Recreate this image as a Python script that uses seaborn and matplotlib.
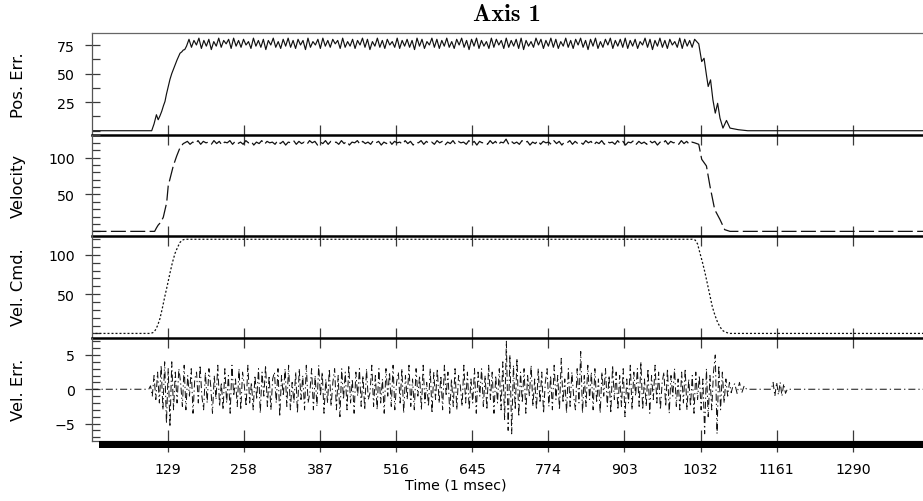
import numpy as np
import pandas as pd
import matplotlib
matplotlib.use("Agg")
import matplotlib.pyplot as plt
from matplotlib.ticker import MultipleLocator, FixedLocator
import seaborn as sns

# ---------------- data (time in ms) ----------------
time_ticks = [129, 258, 387, 516, 645, 774, 903, 1032, 1161, 1290]
time_end = 1409

# Position error
pos_rise_t = [0, 102, 106, 110, 113, 116, 119, 122, 124.5, 127, 130, 133, 136,
              139, 141.5, 145, 150, 153, 155.5, 158]
pos_rise_v = [0, 0, 6, 14, 9.6, 13, 17, 22, 25.6, 32, 38.7, 45, 50,
              54, 57.6, 62, 67.8, 69, 70.6, 71]
pos_hold_start, pos_hold_step = 161, 4.2
pos_hold_v = [
    74, 80, 73, 79, 75, 81, 72, 79, 74, 80,
    71, 78, 74, 81, 73, 79, 76, 80, 72, 81,
    74, 79, 73, 80, 75, 78, 72, 81, 74, 79,
    73, 80, 71, 79, 75, 81, 73, 78, 72, 80,
    74, 81, 73, 79, 72, 80, 75, 79, 71, 81,
    73, 78, 75, 80, 72, 81, 74, 79, 73, 80,
    76, 79, 72, 81, 73, 78, 74, 80, 72, 79,
    75, 81, 73, 80, 71, 78, 74, 81, 73, 79,
    72, 80, 75, 78, 73, 81, 72, 79, 74, 80,
    73, 79, 71, 81, 74, 80, 72, 78, 75, 81,
    73, 80, 72, 79, 74, 81, 73, 78, 72, 80,
    75, 81, 73, 79, 71, 80, 74, 81, 72, 79,
    74, 78, 72, 81, 73, 80, 75, 79, 72, 81,
    73, 79, 74, 80, 72, 81, 71, 79, 74, 78,
    73, 81, 75, 80, 72, 79, 74, 81, 73, 80,
    72, 78, 74, 81, 73, 79, 72, 80, 75, 81,
    73, 79, 71, 80, 74, 81, 72, 78, 73, 80,
    75, 81, 72, 79, 74, 80, 73, 81, 72, 79,
    74, 80, 72, 78, 75, 81, 73, 80, 71, 79,
    74, 81, 73, 79, 72, 80, 75, 78, 73, 81,
    72, 80, 74, 79, 73, 80,
]
pos_fall_t = [1029, 1034, 1038, 1042, 1045, 1049, 1053, 1057, 1061, 1065,
              1070, 1076, 1082, 1096, 1112, time_end]
pos_fall_v = [76, 60.5, 63.4, 48.8, 38.7, 44.5, 27, 15.4, 24, 11,
              2.3, 9, 2.3, 0.9, 0, 0]

# Measured velocity
vel_rise_t = [0, 107, 110, 113, 117, 121.6, 127.4, 130, 135.8, 138.6, 144.3,
              150, 155.5]
vel_rise_v = [0, 0, 4.6, 8.5, 12, 19, 39, 61.7, 79.7, 88.8, 102,
              113.5, 119]
vel_hold_start, vel_hold_step = 158, 4.5
vel_hold_v = [
    120, 122, 118, 121, 119, 123, 118, 122, 120, 121,
    118, 123, 119, 122, 117, 121, 120, 123, 118, 122,
    119, 121, 118, 123, 120, 122, 117, 121, 119, 123,
    118, 122, 120, 121, 118, 123, 119, 122, 117, 121,
    120, 123, 118, 122, 119, 121, 118, 123, 120, 122,
    117, 121, 119, 123, 118, 122, 120, 121, 118, 123,
    119, 122, 117, 121, 120, 123, 118, 122, 119, 121,
    118, 123, 120, 122, 117, 121, 119, 123, 118, 122,
    120, 121, 118, 123, 119, 122, 117, 121, 120, 123,
    118, 122, 119, 121, 118, 123, 120, 122, 117, 121,
    119, 123, 118, 122, 120, 121, 118, 123, 119, 122,
    117, 122, 120, 121, 118, 123, 119, 122, 117, 121,
    120, 125, 118, 122, 119, 121, 118, 123, 120, 122,
    117, 121, 119, 123, 118, 122, 120, 121, 118, 123,
    119, 122, 117, 121, 120, 123, 118, 122, 119, 121,
    118, 123, 120, 122, 117, 121, 119, 123, 118, 122,
    120, 121, 118, 123, 119, 122, 117, 121, 120, 123,
    118, 122, 119, 121, 118, 123, 120, 122, 117, 121,
    119, 123, 118, 122, 120, 121, 118, 123, 119, 122,
    118, 121, 120,
]
vel_fall_t = [1029, 1034, 1042, 1048, 1056, 1065, 1073, 1082, time_end]
vel_fall_v = [118, 97.7, 88.7, 61.4, 29.6, 16, 2.3, 0, 0]

# Velocity command
cmd_t = [0, 100, 104, 108, 112, 116, 120, 124.5, 129, 133, 137, 141.5, 146,
         150, 154, 158, 162, 1018, 1023, 1027, 1031, 1035.5, 1039.7, 1044,
         1048, 1052, 1056.5, 1061, 1065, 1069, 1073, 1078, 1082, time_end]
cmd_v = [0, 0, 1, 4, 10, 19, 32, 48, 63, 77, 90, 102, 110,
         116, 119, 120, 120, 120, 119, 114, 102.5, 90, 77, 62,
         48, 34, 23, 14, 8.4, 4, 2, 0.7, 0, 0]

# Velocity error
err_lead_t = [0, 97]
err_lead_v = [0, 0]
err_run_start, err_run_step = 100, 3
err_run_v = [
    0.5, -1.0, 2.0, -1.5, 2.5, -2.0, 3.5, -3.0, 4.0, -5.0,
    3.0, -5.5, 4.0, -3.0, 2.5, -2.0, 3.0, 1.0, -2.5, 3.5,
    -3.0, 2.0, -1.0, 3.0, -3.5, 1.5, 2.5, -2.0, 3.5, -1.0,
    -3.0, 2.5, -2.0, 3.0, 0.5, -3.5, 2.0, -1.5, 3.5, -2.5,
    1.0, -3.0, 3.0, -2.0, 2.0, -3.5, 3.5, -1.0, 1.5, -2.5,
    3.0, -3.0, 2.5, 0.5, -2.5, 3.5, -2.0, 1.0, -3.0, 2.0,
    -1.5, 3.0, -3.5, 2.5, -1.0, 3.5, -2.5, 2.0, -3.0, 1.5,
    2.5, -2.0, 3.0, -4.0, 2.0, -1.0, 3.0, -2.5, 3.5, -3.0,
    1.0, -2.0, 2.5, -3.5, 3.0, -1.5, 2.0, -3.0, 3.5, -2.0,
    -0.5, 3.0, -3.0, 2.0, -2.5, 3.5, -1.0, 2.5, -3.5, 1.5,
    -2.0, 3.0, -2.5, 1.0, 3.0, -3.0, 2.0, -4.0, 3.0, -1.5,
    2.5, -3.0, 3.5, -2.0, 1.5, -3.5, 2.5, -1.0, 3.0, -2.5,
    2.0, -3.0, 3.0, -1.5, -0.5, 3.5, -2.5, 2.0, -3.0, 3.0,
    -2.0, 1.5, -3.5, 3.0, -1.0, 2.5, -2.5, 3.5, -3.0, 1.0,
    2.5, -2.0, 3.0, -3.5, 2.0, -1.5, 3.5, -2.5, 1.5, -3.0,
    3.0, -1.0, 2.0, -3.0, 3.5, -2.0, 1.0, -2.5, 3.0, -3.5,
    2.5, -1.5, 3.0, -2.0, 2.0, -3.0, 3.5, -1.0, 2.5, -3.5,
    1.5, -2.5, 3.0, -3.0, 2.0, 0.5, -2.5, 3.5, -2.0, 2.5,
    -3.0, 1.5, -2.0, 3.0, -3.5, 2.5, -1.0, 3.0, -2.5, 2.0,
    -3.0, 3.5, -1.5, 2.5, -3.5, 2.0, -2.0, 3.0, -3.0, 4.0,
    -4.5, 7.0, -6.0, 5.0, -6.5, 3.5, -3.0, 4.5, -4.0, 2.5,
    -2.0, 3.0, -3.5, 2.0, -1.0, 3.5, -2.5, 1.5, -3.0, 3.0,
    -2.0, 2.5, -3.5, 1.0, 3.0, -2.5, 2.0, -3.0, 3.5, -1.5,
    2.0, -3.0, 4.5, -2.0, 1.5, -3.5, 3.0, -2.5, 2.5, -1.0,
    -3.0, 3.0, -2.0, 5.5, -3.5, 2.0, -2.5, 3.5, -1.5, 2.5,
    -3.0, 3.0, -2.0, 1.5, -3.5, 2.5, -1.0, 3.0, -2.5, 2.0,
    -3.5, 3.5, -1.5, 2.5, -3.0, 2.0, -2.5, 3.0, -4.0, 1.5,
    -2.0, 3.5, -3.0, 2.5, -1.0, 3.0, -2.5, 4.0, -3.0, 1.5,
    -2.5, 3.0, -3.5, 2.0, -1.5, 3.5, -2.0, 2.5, -3.0, 1.0,
    2.5, -2.5, 3.0, -3.5, 2.0, -1.0, 3.0, -2.5, 1.5, -3.0,
    2.5, -2.0, 3.0, -3.0, 1.5, -2.5, 2.0, -3.5, 2.5, -1.5,
    2.0, -3.0, 1.5, -6.5, 3.0, -4.0, 2.0, -3.0, 2.5, 5.0,
    -6.5, 3.5, -3.0, 2.5, -2.0, 1.5, -1.0, 1.0, -0.5, 0.5,
]
err_tail_t = [1090, 1094, 1098, 1102, 1106, 1110, 1152, 1155, 1158, 1161,
              1164, 1167, 1170, 1173, 1176, 1179, time_end]
err_tail_v = [0.8, -0.6, 1.0, -0.5, 0.5, 0, 0, 1.0, -1.0, 1.0,
              -0.8, 1.0, -1.0, 0.8, -0.6, 0, 0]


def frame(*parts):
    """Join (times, values) pieces into one long table."""
    t = np.concatenate([np.asarray(p[0], float) for p in parts])
    v = np.concatenate([np.asarray(p[1], float) for p in parts])
    return pd.DataFrame({"t": t, "v": v})


def grid(start, step, values):
    return start + step * np.arange(len(values)), values


pos_df = frame((pos_rise_t, pos_rise_v),
               grid(pos_hold_start, pos_hold_step, pos_hold_v),
               (pos_fall_t, pos_fall_v))
vel_df = frame((vel_rise_t, vel_rise_v),
               grid(vel_hold_start, vel_hold_step, vel_hold_v),
               (vel_fall_t, vel_fall_v))
cmd_df = frame((cmd_t, cmd_v))
err_df = frame((err_lead_t, err_lead_v),
               grid(err_run_start, err_run_step, err_run_v),
               (err_tail_t, err_tail_v))

# ---------------- figure ----------------
sns.set_theme(style="white")
plt.rcParams["font.family"] = ["DejaVu Sans"]
plt.rcParams["axes.facecolor"] = "none"

W, H = 923, 502
fig = plt.figure(figsize=(W / 100, H / 100), dpi=100)
fig.patch.set_facecolor("white")


def rect(x0, y_top, x1, y_bot):
    return [x0 / W, 1 - y_bot / H, (x1 - x0) / W, (y_bot - y_top) / H]


panels = [
    dict(df=pos_df, label="Pos. Err.", ylim=(-3.3, 85.5), major=[25, 50, 75],
         minor=12.5, ls="-", lw=0.85, span=(34, 135.5)),
    dict(df=vel_df, label="Velocity", ylim=(-5.6, 131.3), major=[50, 100],
         minor=10, ls=(0, (12, 3.5)), lw=0.9, span=(135.5, 236.5)),
    dict(df=cmd_df, label="Vel. Cmd.", ylim=(-5.2, 124.8), major=[50, 100],
         minor=10, ls=(0, (1.6, 1.6)), lw=0.9, span=(236.5, 338.5)),
    dict(df=err_df, label="Vel. Err.", ylim=(-7.55, 7.55), major=[-5, 0, 5],
         minor=1, ls=(0, (7, 3.0, 1.3, 3.0)), lw=0.72, span=(338.5, 442)),
]

tick_col = "#3a3a3a"
axes = []
for i, p in enumerate(panels):
    ax = fig.add_axes(rect(91.5, p["span"][0], W, p["span"][1]))
    sns.lineplot(data=p["df"], x="t", y="v", ax=ax, color="#111111",
                 linewidth=p["lw"], linestyle=p["ls"], estimator=None,
                 legend=False)
    ax.set_xlim(0, time_end)
    ax.set_ylim(*p["ylim"])
    ax.set_facecolor("none")

    # frame
    ax.spines["right"].set_visible(False)
    ax.spines["left"].set_color("#555555")
    ax.spines["left"].set_linewidth(0.9)
    if i == 0:
        ax.spines["top"].set_color("#666666")
        ax.spines["top"].set_linewidth(0.9)
    else:
        ax.spines["top"].set_visible(False)
    if i < 3:
        ax.spines["bottom"].set_color("black")
        ax.spines["bottom"].set_linewidth(1.8)
    else:
        ax.spines["bottom"].set_color("#555555")
        ax.spines["bottom"].set_linewidth(0.9)

    # y ticks
    ax.yaxis.set_major_locator(FixedLocator(p["major"]))
    ax.yaxis.set_minor_locator(MultipleLocator(p["minor"]))
    ax.tick_params(axis="y", which="major", left=True, direction="inout",
                   length=10.8, width=0.9, color=tick_col, pad=6.5,
                   labelsize=10.2, labelcolor="black")
    ax.tick_params(axis="y", which="minor", left=True, direction="in",
                   length=5.8, width=0.9, color=tick_col)

    # x ticks crossing the panel border
    ax.xaxis.set_major_locator(FixedLocator(time_ticks))
    xlen = 13.7 if i < 3 else 15.2
    ax.tick_params(axis="x", which="major", bottom=True, top=False,
                   direction="inout", length=xlen, width=0.9, color=tick_col,
                   labelbottom=(i == 3), pad=7.3, labelsize=10.2,
                   labelcolor="black")

    ax.set_ylabel(p["label"], fontsize=11.8, color="black")
    ax.yaxis.set_label_coords(-0.079, 0.5)
    ax.set_xlabel("")
    axes.append(ax)

axes[0].set_title("Axis 1", fontfamily="cmb10", fontsize=17.5, pad=9,
                  color="black")
axes[3].set_xlabel("Time (1 msec)", fontsize=10.2, color="black")
axes[3].xaxis.set_label_coords(0.438, -0.355)

# heavy time-axis rule under the bottom panel
bar = fig.add_axes(rect(99, 442, W, 449))
bar.set_facecolor("black")
bar.set_xticks([])
bar.set_yticks([])
for s in bar.spines.values():
    s.set_visible(False)

fig.savefig("out.png", dpi=100, facecolor="white")
